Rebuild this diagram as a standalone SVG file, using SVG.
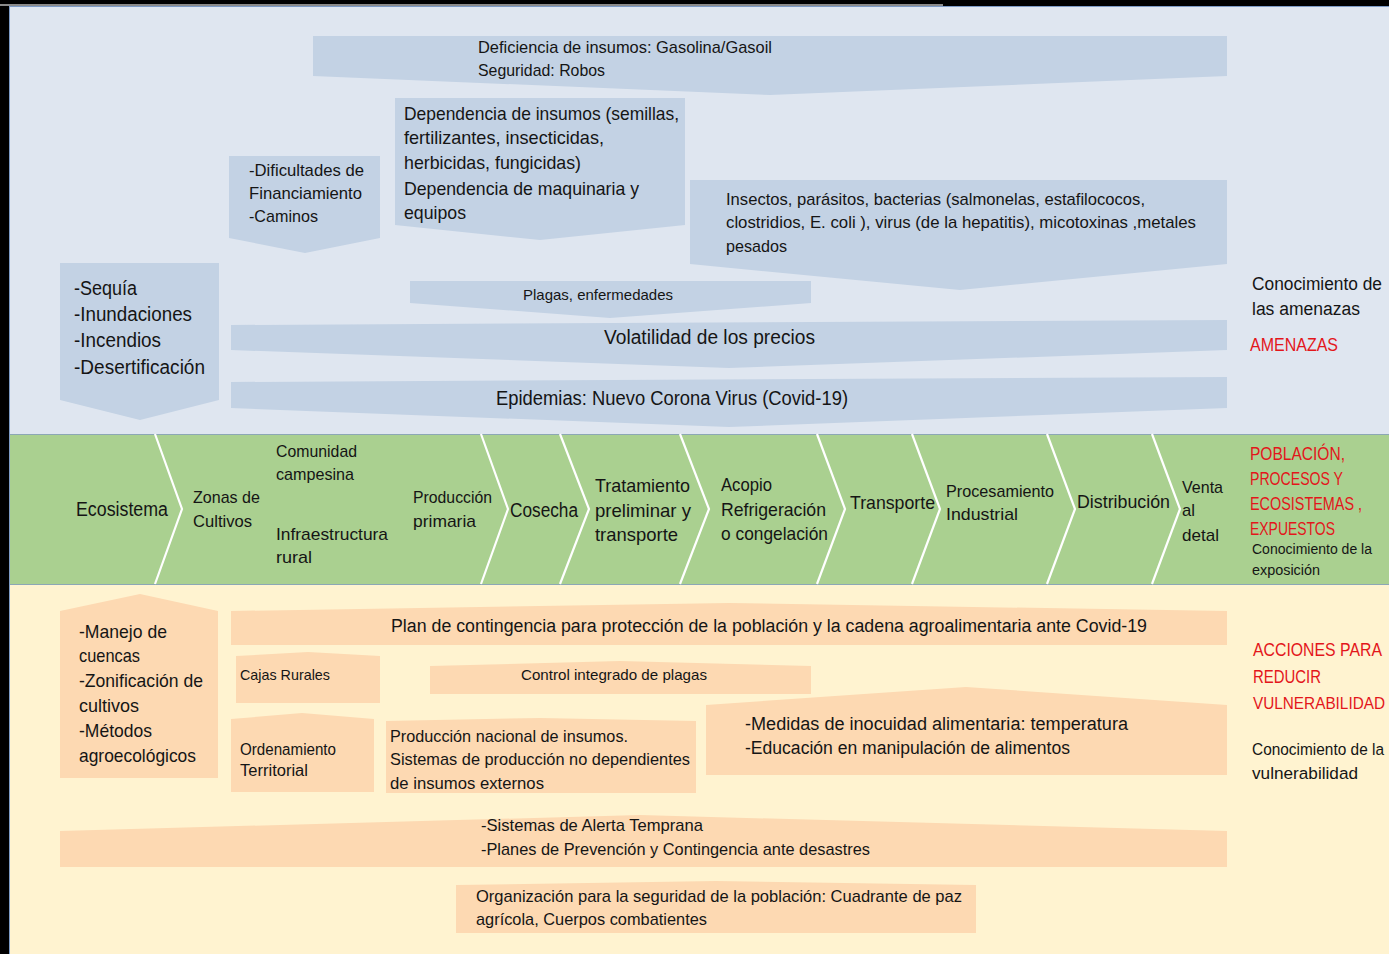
<svg xmlns="http://www.w3.org/2000/svg" width="1389" height="954" viewBox="0 0 1389 954">
<style>
text{font-family:"Liberation Sans",Arial,sans-serif;fill:#151515}
.b{fill:#c3d2e4}
.p{fill:#fdd9b2}
.red{fill:#e3161b}
.div{fill:none;stroke:#ffffff;stroke-width:2.2}
</style>
<rect width="1389" height="954" fill="#000"/>
<rect x="0" y="4" width="943" height="2" fill="#8a8a8a"/>
<rect x="9.5" y="6.5" width="1380" height="428" fill="#dfe6f0" stroke="#7d9bc6" stroke-width="1"/>
<rect x="9" y="434" width="1380" height="150" fill="#aad090"/>
<rect x="9" y="584" width="1380" height="370" fill="#fff3d0"/>
<line x1="9" y1="434.5" x2="1389" y2="434.5" stroke="#8ca7b5" stroke-width="1"/>
<line x1="9" y1="584.5" x2="1389" y2="584.5" stroke="#8ca7b5" stroke-width="1"/>
<line x1="9.5" y1="7" x2="9.5" y2="954" stroke="#7d9bc6" stroke-width="1"/>

<g id="threats">
<g id="n-deficiencia"><polygon class="b" points="313,36 1227,36 1227,76 770,95 313,76"/>
<text x="478" y="53" font-size="17" textLength="294" lengthAdjust="spacingAndGlyphs">Deficiencia de insumos: Gasolina/Gasoil</text>
<text x="478" y="76" font-size="17" textLength="127" lengthAdjust="spacingAndGlyphs">Seguridad: Robos</text></g>
<g id="n-dependencia"><polygon class="b" points="395,98 685,98 685,225 540,240 395,225"/>
<text x="404" y="120" font-size="19" textLength="275" lengthAdjust="spacingAndGlyphs">Dependencia de insumos (semillas,</text>
<text x="404" y="144" font-size="19" textLength="200" lengthAdjust="spacingAndGlyphs">fertilizantes, insecticidas,</text>
<text x="404" y="169" font-size="19" textLength="177" lengthAdjust="spacingAndGlyphs">herbicidas, fungicidas)</text>
<text x="404" y="195" font-size="19" textLength="235" lengthAdjust="spacingAndGlyphs">Dependencia de maquinaria y</text>
<text x="404" y="219" font-size="19" textLength="62" lengthAdjust="spacingAndGlyphs">equipos</text></g>
<g id="n-dificultades"><polygon class="b" points="229,156 380,156 380,238 305,253 229,238"/>
<text x="249" y="176" font-size="17" textLength="115" lengthAdjust="spacingAndGlyphs">-Dificultades de</text>
<text x="249" y="199" font-size="17" textLength="113" lengthAdjust="spacingAndGlyphs">Financiamiento</text>
<text x="249" y="222" font-size="17" textLength="69" lengthAdjust="spacingAndGlyphs">-Caminos</text></g>
<g id="n-insectos"><polygon class="b" points="690,180 1227,180 1227,264 960,290 690,264"/>
<text x="726" y="205" font-size="17" textLength="419" lengthAdjust="spacingAndGlyphs">Insectos, parásitos, bacterias (salmonelas, estafilococos,</text>
<text x="726" y="228" font-size="17" textLength="470" lengthAdjust="spacingAndGlyphs">clostridios, E. coli ), virus (de la hepatitis), micotoxinas ,metales</text>
<text x="726" y="252" font-size="17" textLength="61" lengthAdjust="spacingAndGlyphs">pesados</text></g>
<g id="n-sequia"><polygon class="b" points="60,263 219,263 219,400 140,420 60,400"/>
<text x="74" y="295" font-size="20" textLength="63" lengthAdjust="spacingAndGlyphs">-Sequía</text>
<text x="74" y="321" font-size="20" textLength="118" lengthAdjust="spacingAndGlyphs">-Inundaciones</text>
<text x="74" y="347" font-size="20" textLength="87" lengthAdjust="spacingAndGlyphs">-Incendios</text>
<text x="74" y="374" font-size="20" textLength="131" lengthAdjust="spacingAndGlyphs">-Desertificación</text></g>
<g id="n-plagas"><polygon class="b" points="410,281 811,281 811,303 610,318 410,303"/>
<text x="523" y="300" font-size="15" textLength="150" lengthAdjust="spacingAndGlyphs">Plagas, enfermedades</text></g>
<g id="n-volatilidad"><polygon class="b" points="231,325 1227,320 1227,350 729,368 231,350"/>
<text x="604" y="344" font-size="20" textLength="211" lengthAdjust="spacingAndGlyphs">Volatilidad de los precios</text></g>
<g id="n-epidemias"><polygon class="b" points="231,382 1227,377 1227,408 729,427 231,408"/>
<text x="496" y="405" font-size="20" textLength="352" lengthAdjust="spacingAndGlyphs">Epidemias: Nuevo Corona Virus (Covid-19)</text></g>
<g id="n-amenazas-label">
<text transform="translate(1252 290) scale(1 1.12)" font-size="17" textLength="130" lengthAdjust="spacingAndGlyphs">Conocimiento de</text>
<text transform="translate(1252 315) scale(1 1.12)" font-size="17" textLength="108" lengthAdjust="spacingAndGlyphs">las amenazas</text>
<text class="red" transform="translate(1250 351) scale(1 1.2)" font-size="16" textLength="88" lengthAdjust="spacingAndGlyphs">AMENAZAS</text></g>
</g>

<g id="connectors">
<polyline class="div" points="155,434 182,509 155,584"/>
<polyline class="div" points="481,434 508,509 481,584"/>
<polyline class="div" points="560,434 589,509 560,584"/>
<polyline class="div" points="680,434 709,509 680,584"/>
<polyline class="div" points="817,434 845,509 817,584"/>
<polyline class="div" points="912,434 940,509 912,584"/>
<polyline class="div" points="1047,434 1075,509 1047,584"/>
<polyline class="div" points="1152,434 1180,509 1152,584"/>
</g>

<g id="chain">
<g id="n-ecosistema"><text x="76" y="516" font-size="20" textLength="92" lengthAdjust="spacingAndGlyphs">Ecosistema</text></g>
<g id="n-zonas"><text x="193" y="503" font-size="17" textLength="67" lengthAdjust="spacingAndGlyphs">Zonas de</text><text x="193" y="527" font-size="17" textLength="59" lengthAdjust="spacingAndGlyphs">Cultivos</text></g>
<g id="n-comunidad"><text x="276" y="457" font-size="17" textLength="81" lengthAdjust="spacingAndGlyphs">Comunidad</text><text x="276" y="480" font-size="17" textLength="78" lengthAdjust="spacingAndGlyphs">campesina</text>
<text x="276" y="540" font-size="17" textLength="112" lengthAdjust="spacingAndGlyphs">Infraestructura</text><text x="276" y="563" font-size="17" textLength="36" lengthAdjust="spacingAndGlyphs">rural</text></g>
<g id="n-produccion"><text x="413" y="503" font-size="17" textLength="79" lengthAdjust="spacingAndGlyphs">Producción</text><text x="413" y="527" font-size="17" textLength="63" lengthAdjust="spacingAndGlyphs">primaria</text></g>
<g id="n-cosecha"><text x="510" y="517" font-size="20" textLength="68" lengthAdjust="spacingAndGlyphs">Cosecha</text></g>
<g id="n-tratamiento"><text x="595" y="492" font-size="19" textLength="95" lengthAdjust="spacingAndGlyphs">Tratamiento</text><text x="595" y="517" font-size="19" textLength="96" lengthAdjust="spacingAndGlyphs">preliminar y</text><text x="595" y="541" font-size="19" textLength="83" lengthAdjust="spacingAndGlyphs">transporte</text></g>
<g id="n-acopio"><text x="721" y="491" font-size="19" textLength="51" lengthAdjust="spacingAndGlyphs">Acopio</text><text x="721" y="516" font-size="19" textLength="105" lengthAdjust="spacingAndGlyphs">Refrigeración</text><text x="721" y="540" font-size="19" textLength="107" lengthAdjust="spacingAndGlyphs">o congelación</text></g>
<g id="n-transporte"><text x="850" y="509" font-size="19" textLength="85" lengthAdjust="spacingAndGlyphs">Transporte</text></g>
<g id="n-procesamiento"><text x="946" y="497" font-size="17" textLength="108" lengthAdjust="spacingAndGlyphs">Procesamiento</text><text x="946" y="520" font-size="17" textLength="72" lengthAdjust="spacingAndGlyphs">Industrial</text></g>
<g id="n-distribucion"><text x="1077" y="508" font-size="19" textLength="93" lengthAdjust="spacingAndGlyphs">Distribución</text></g>
<g id="n-venta"><text x="1182" y="493" font-size="17" textLength="41" lengthAdjust="spacingAndGlyphs">Venta</text><text x="1182" y="516" font-size="17" textLength="13" lengthAdjust="spacingAndGlyphs">al</text><text x="1182" y="541" font-size="17" textLength="37" lengthAdjust="spacingAndGlyphs">detal</text></g>
<g id="n-expuestos">
<text class="red" transform="translate(1250 460) scale(1 1.2)" font-size="16" textLength="95" lengthAdjust="spacingAndGlyphs">POBLACIÓN,</text>
<text class="red" transform="translate(1250 485) scale(1 1.2)" font-size="16" textLength="93" lengthAdjust="spacingAndGlyphs">PROCESOS Y</text>
<text class="red" transform="translate(1250 510) scale(1 1.2)" font-size="15.5" textLength="112" lengthAdjust="spacingAndGlyphs">ECOSISTEMAS ,</text>
<text class="red" transform="translate(1250 535) scale(1 1.2)" font-size="16" textLength="85" lengthAdjust="spacingAndGlyphs">EXPUESTOS</text>
<text x="1252" y="554" font-size="14" textLength="120" lengthAdjust="spacingAndGlyphs">Conocimiento de la</text>
<text x="1252" y="575" font-size="14" textLength="68" lengthAdjust="spacingAndGlyphs">exposición</text></g>
</g>

<g id="actions">
<g id="n-manejo"><polygon class="p" points="60,611 140,594 218,611 218,778 60,778"/>
<text x="79" y="638" font-size="19" textLength="88" lengthAdjust="spacingAndGlyphs">-Manejo de</text>
<text x="79" y="662" font-size="19" textLength="61" lengthAdjust="spacingAndGlyphs">cuencas</text>
<text x="79" y="687" font-size="19" textLength="124" lengthAdjust="spacingAndGlyphs">-Zonificación de</text>
<text x="79" y="712" font-size="19" textLength="60" lengthAdjust="spacingAndGlyphs">cultivos</text>
<text x="79" y="737" font-size="19" textLength="73" lengthAdjust="spacingAndGlyphs">-Métodos</text>
<text x="79" y="762" font-size="19" textLength="117" lengthAdjust="spacingAndGlyphs">agroecológicos</text></g>
<g id="n-plan"><polygon class="p" points="231,611 729,603 1227,611 1227,645 231,645"/>
<text x="391" y="632" font-size="18" textLength="756" lengthAdjust="spacingAndGlyphs">Plan de contingencia para protección de la población y la cadena agroalimentaria ante Covid-19</text></g>
<g id="n-cajas"><polygon class="p" points="236,656 308,652 380,656 380,703 236,703"/>
<text x="240" y="680" font-size="15" textLength="90" lengthAdjust="spacingAndGlyphs">Cajas Rurales</text></g>
<g id="n-control"><polygon class="p" points="430,666 620,661 811,666 811,694 430,694"/>
<text x="521" y="680" font-size="15" textLength="186" lengthAdjust="spacingAndGlyphs">Control integrado de plagas</text></g>
<g id="n-ordenamiento"><polygon class="p" points="231,719 302,713 374,719 374,792 231,792"/>
<text x="240" y="755" font-size="16" textLength="96" lengthAdjust="spacingAndGlyphs">Ordenamiento</text>
<text x="240" y="776" font-size="16" textLength="68" lengthAdjust="spacingAndGlyphs">Territorial</text></g>
<g id="n-produccion-nac"><polygon class="p" points="386,721 540,718 696,721 696,793 386,793"/>
<text x="390" y="742" font-size="17" textLength="238" lengthAdjust="spacingAndGlyphs">Producción nacional de insumos.</text>
<text x="390" y="765" font-size="17" textLength="300" lengthAdjust="spacingAndGlyphs">Sistemas de producción no dependientes</text>
<text x="390" y="789" font-size="17" textLength="154" lengthAdjust="spacingAndGlyphs">de insumos externos</text></g>
<g id="n-medidas"><polygon class="p" points="706,705 966,687 1227,705 1227,775 706,775"/>
<text x="745" y="730" font-size="18" textLength="383" lengthAdjust="spacingAndGlyphs">-Medidas de inocuidad alimentaria: temperatura</text>
<text x="745" y="754" font-size="18" textLength="325" lengthAdjust="spacingAndGlyphs">-Educación en manipulación de alimentos</text></g>
<g id="n-alerta"><polygon class="p" points="60,831 640,815 1227,831 1227,867 60,867"/>
<text x="481" y="831" font-size="17" textLength="222" lengthAdjust="spacingAndGlyphs">-Sistemas de Alerta Temprana</text>
<text x="481" y="855" font-size="17" textLength="389" lengthAdjust="spacingAndGlyphs">-Planes de Prevención y Contingencia ante desastres</text></g>
<g id="n-organizacion"><polygon class="p" points="456,885 716,881 976,885 976,933 456,933"/>
<text x="476" y="902" font-size="17" textLength="486" lengthAdjust="spacingAndGlyphs">Organización para la seguridad de la población: Cuadrante de paz</text>
<text x="476" y="925" font-size="17" textLength="231" lengthAdjust="spacingAndGlyphs">agrícola, Cuerpos combatientes</text></g>
<g id="n-acciones-label">
<text class="red" transform="translate(1253 656) scale(1 1.2)" font-size="15.5" textLength="129" lengthAdjust="spacingAndGlyphs">ACCIONES PARA</text>
<text class="red" transform="translate(1253 683) scale(1 1.2)" font-size="15.5" textLength="68" lengthAdjust="spacingAndGlyphs">REDUCIR</text>
<text class="red" transform="translate(1253 709) scale(1 1.2)" font-size="14.5" textLength="132" lengthAdjust="spacingAndGlyphs">VULNERABILIDAD</text>
<text transform="translate(1252 755) scale(1 1.15)" font-size="15" textLength="132" lengthAdjust="spacingAndGlyphs">Conocimiento de la</text>
<text transform="translate(1252 779) scale(1 1.15)" font-size="15" textLength="106" lengthAdjust="spacingAndGlyphs">vulnerabilidad</text></g>
</g>
</svg>
